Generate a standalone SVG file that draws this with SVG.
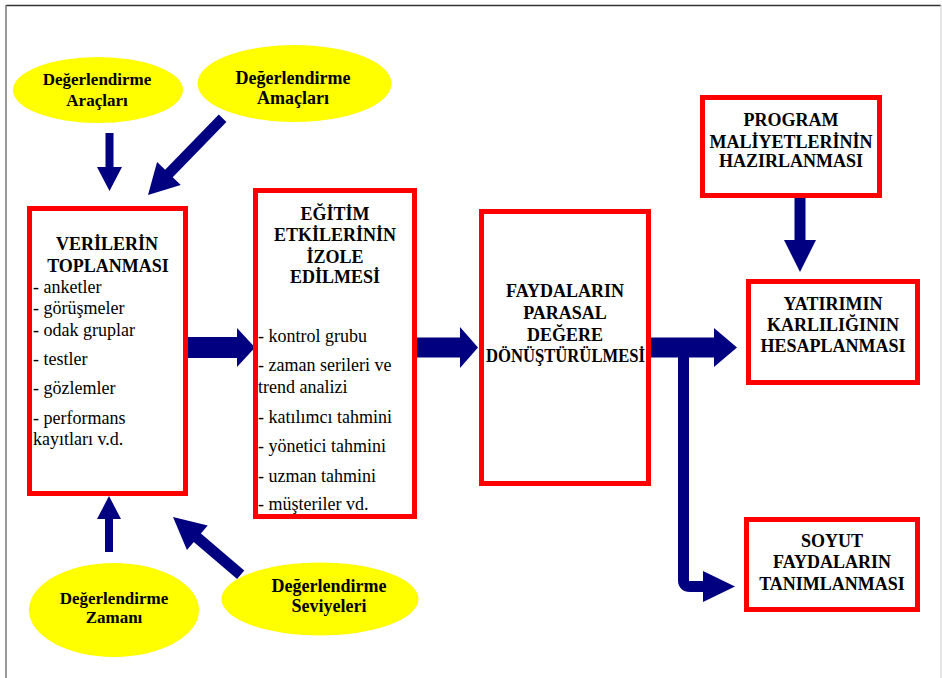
<svg xmlns="http://www.w3.org/2000/svg" width="942" height="678" viewBox="0 0 942 678">
  <style>
    .box { fill: #ffffff; stroke: #ff0000; stroke-width: 5; }
    .oval { fill: #ffff00; stroke: none; }
    .arrow { fill: #000080; stroke: none; }
    text { font-family: 'Liberation Serif', 'DejaVu Serif', serif; fill: #000000; }
    .h { font-weight: bold; font-size: 18px; text-anchor: middle; }
    .o { font-weight: bold; font-size: 17px; text-anchor: middle; }
    .li { font-size: 18px; }
  </style>

  <rect x="0" y="0" width="942" height="678" fill="#ffffff"/>
  <!-- page frame -->
  <line x1="6" y1="5.5" x2="941" y2="5.5" stroke="#333333" stroke-width="1.5"/>
  <line x1="6" y1="5" x2="6" y2="678" stroke="#777777" stroke-width="1.5"/>
  <line x1="941" y1="5" x2="941" y2="678" stroke="#cccccc" stroke-width="1"/>

  <!-- connectors -->
  <g id="connectors">
    <!-- Araçları -> Verilerin -->
    <polygon class="arrow" transform="translate(109.5,191) rotate(90)" points="0,0 -24,-12.5 -24,-4 -58,-4 -58,4 -24,4 -24,12.5"/>
    <!-- Amaçları -> Verilerin -->
    <polygon class="arrow" transform="translate(148,195) rotate(134.2)" points="0,0 -30,-16.5 -30,-5.3 -107,-5.3 -107,5.3 -30,5.3 -30,16.5"/>
    <!-- Zamanı -> Verilerin -->
    <polygon class="arrow" transform="translate(109,496) rotate(-90)" points="0,0 -23,-12 -23,-4 -56,-4 -56,4 -23,4 -23,12"/>
    <!-- Seviyeleri -> Verilerin -->
    <polygon class="arrow" transform="translate(173,517) rotate(-139.5)" points="0,0 -32,-16 -32,-5.5 -89,-5.5 -89,5.5 -32,5.5 -32,16"/>
    <!-- Verilerin -> Eğitim -->
    <polygon class="arrow" transform="translate(255,347.5)" points="0,0 -18,-19.5 -18,-10.5 -67,-10.5 -67,10.5 -18,10.5 -18,19.5"/>
    <!-- Eğitim -> Faydalar -->
    <polygon class="arrow" transform="translate(478,347.5)" points="0,0 -18,-20.5 -18,-10 -61,-10 -61,10 -18,10 -18,20.5"/>
    <!-- Faydalar -> Yatırımın -->
    <polygon class="arrow" transform="translate(737,347.5)" points="0,0 -23,-19.5 -23,-10 -86,-10 -86,10 -23,10 -23,19.5"/>
    <!-- Program -> Yatırımın -->
    <polygon class="arrow" transform="translate(800,272) rotate(90)" points="0,0 -32,-16 -32,-5.5 -74,-5.5 -74,5.5 -32,5.5 -32,16"/>
    <!-- branch to Soyut -->
    <path d="M683.5,352 V580 Q683.5,586.5 690,586.5 H706" fill="none" stroke="#000080" stroke-width="11"/>
    <polygon class="arrow" points="735,586.5 703,571 703,602"/>
  </g>

  <!-- ellipses -->
  <g id="araclar">
    <ellipse class="oval" cx="98" cy="90" rx="85" ry="33"/>
    <text class="o" x="97" y="85">Değerlendirme</text>
    <text class="o" x="97" y="106">Araçları</text>
  </g>
  <g id="amaclar">
    <ellipse class="oval" cx="294.5" cy="83.5" rx="97" ry="38.5"/>
    <text class="o" x="293" y="84" style="font-size:18px">Değerlendirme</text>
    <text class="o" x="293" y="104" style="font-size:18px">Amaçları</text>
  </g>
  <g id="zaman">
    <ellipse class="oval" cx="114" cy="610" rx="85" ry="47"/>
    <text class="o" x="114" y="604">Değerlendirme</text>
    <text class="o" x="114" y="623">Zamanı</text>
  </g>
  <g id="seviyeler">
    <ellipse class="oval" cx="320" cy="599" rx="98.5" ry="36.5"/>
    <text class="o" x="329" y="592" style="font-size:18px">Değerlendirme</text>
    <text class="o" x="329" y="612" style="font-size:18px">Seviyeleri</text>
  </g>

  <!-- boxes -->
  <g id="verilerin">
    <rect class="box" x="29.5" y="208.5" width="156" height="285"/>
    <text class="h" x="107" y="250">VERİLERİN</text>
    <text class="h" x="108" y="272">TOPLANMASI</text>
    <text class="li" x="33" y="293">- anketler</text>
    <text class="li" x="33" y="314">- görüşmeler</text>
    <text class="li" x="33" y="336">- odak gruplar</text>
    <text class="li" x="33" y="365">- testler</text>
    <text class="li" x="33" y="394">- gözlemler</text>
    <text class="li" x="33" y="424">- performans</text>
    <text class="li" x="33" y="445">kayıtları v.d.</text>
  </g>
  <g id="egitim">
    <rect class="box" x="255.5" y="190.5" width="159" height="326"/>
    <text class="h" x="335" y="220">EĞİTİM</text>
    <text class="h" x="335" y="241">ETKİLERİNİN</text>
    <text class="h" x="335" y="263">İZOLE</text>
    <text class="h" x="335" y="283">EDİLMESİ</text>
    <text class="li" x="258" y="342">- kontrol grubu</text>
    <text class="li" x="258" y="371">- zaman serileri ve</text>
    <text class="li" x="258" y="393">trend analizi</text>
    <text class="li" x="258" y="423">- katılımcı tahmini</text>
    <text class="li" x="258" y="452">- yönetici tahmini</text>
    <text class="li" x="258" y="482">- uzman tahmini</text>
    <text class="li" x="258" y="510">- müşteriler vd.</text>
  </g>
  <g id="faydalar">
    <rect class="box" x="481.5" y="211.5" width="167" height="272"/>
    <text class="h" x="565" y="297">FAYDALARIN</text>
    <text class="h" x="565" y="319">PARASAL</text>
    <text class="h" x="565" y="341">DEĞERE</text>
    <text class="h" x="565.5" y="362" textLength="159" lengthAdjust="spacingAndGlyphs">DÖNÜŞTÜRÜLMESİ</text>
  </g>
  <g id="program">
    <rect class="box" x="702.5" y="97.5" width="177" height="98"/>
    <text class="h" x="791" y="126">PROGRAM</text>
    <text class="h" x="791" y="148">MALİYETLERİNİN</text>
    <text class="h" x="791" y="167">HAZIRLANMASI</text>
  </g>
  <g id="yatirim">
    <rect class="box" x="748.5" y="281.5" width="169" height="101"/>
    <text class="h" x="833" y="310">YATIRIMIN</text>
    <text class="h" x="833" y="331">KARLILIĞININ</text>
    <text class="h" x="833" y="352">HESAPLANMASI</text>
  </g>
  <g id="soyut">
    <rect class="box" x="746.5" y="519.5" width="171" height="90"/>
    <text class="h" x="832" y="547">SOYUT</text>
    <text class="h" x="832" y="568">FAYDALARIN</text>
    <text class="h" x="832" y="590">TANIMLANMASI</text>
  </g>
</svg>
